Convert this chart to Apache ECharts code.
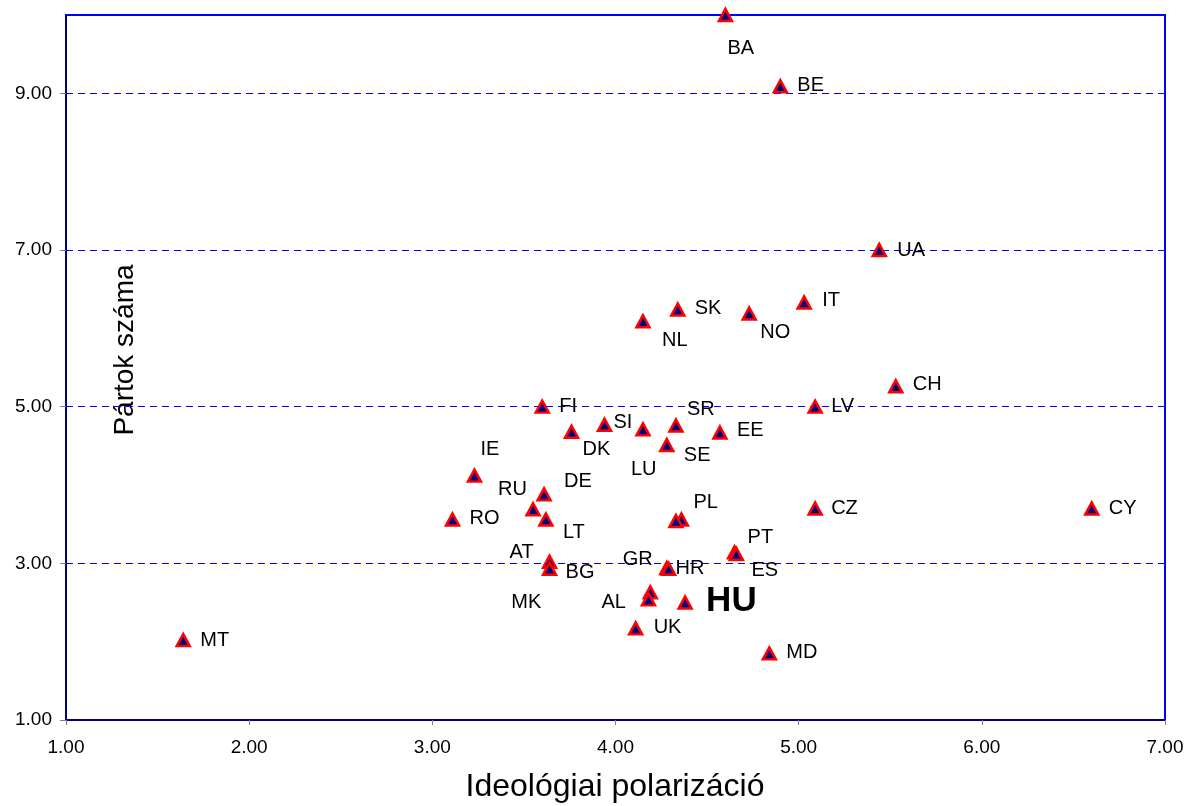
<!DOCTYPE html>
<html>
<head>
<meta charset="utf-8">
<script src="https://cdn.jsdelivr.net/npm/echarts@6/dist/echarts.min.js"></script>
<style>
html,body{margin:0;padding:0;background:#fff;}
#chart{width:1198px;height:806px;}
</style>
</head>
<body>
<div id="chart"></div>
<script>
// ---- data ----
const countries = ['BA','BE','UA','IT','SK','NO','NL','CH','FI','LV','SI','SR','EE','DK','SE','LU','IE','DE','RU','RO','LT','PL','','CZ','CY','PT','ES','AT','BG','GR','HR','MK','AL','HU','UK','MD','MT'];
const xValues   = [4.60,4.90,5.44,5.03,4.34,4.73,4.15,5.53,3.60,5.09,3.94,4.33,4.57,3.76,4.28,4.15,3.23,3.61,3.55,3.11,3.62,4.36,4.33,5.09,6.60,4.65,4.66,3.64,3.64,4.28,4.29,4.19,4.18,4.38,4.11,4.84,1.64];
const yValues   = [10.00,9.09,7.00,6.33,6.24,6.19,6.09,5.26,5.00,5.00,4.77,4.76,4.67,4.68,4.51,4.71,4.12,3.88,3.69,3.56,3.56,3.56,3.54,3.70,3.70,3.14,3.12,3.02,2.93,2.94,2.93,2.63,2.54,2.50,2.17,1.85,2.02];
const xTicks = [1,2,3,4,5,6,7];
const yTicks = [1,3,5,7,9];
const xTitle = 'Ideológiai polarizáció';
const yTitle = 'Pártok száma';
const highlight = 'HU';

// ---- label placement (px, text left edge / vertical centre relative to marker) ----
const labelOffsets = {
  BA:[2,33], BE:[17,-1], UA:[18,0], IT:[18,-2], SK:[17,-1], NO:[11,19], NL:[19,19],
  CH:[17,-2], FI:[17,0], LV:[16,0], SI:[9,-2], SR:[11,-16], EE:[17,-2], DK:[11,18],
  SE:[17,10], LU:[-12,40], IE:[6,-26], DE:[20,-13], RU:[-35,-20], RO:[17,-1], LT:[17,13],
  PL:[12,-17], CZ:[16,0], CY:[17,0], PT:[13,-15], ES:[15,17], AT:[-40,-9], BG:[16,4],
  GR:[-44,-9], HR:[7,0], MK:[-139,10], AL:[-47,3], HU:[21,-1], UK:[18,-1], MD:[17,-1], MT:[17,0]
};

const FONT = 'Arial, "Liberation Sans", sans-serif';

const seriesData = countries.map((c, i) => {
  const off = labelOffsets[c] || [0,0];
  const item = { name: c, value: [xValues[i], yValues[i]] };
  if (!c) {
    item.label = { show: false };
  } else {
    item.label = { offset: off };
    if (c === highlight) {
      item.label.fontSize = 35;
      item.label.fontWeight = 'bold';
    }
  }
  return item;
});

const chart = echarts.init(document.getElementById('chart'), null, {renderer:'canvas'});
chart.setOption({
  animation: false,
  backgroundColor: '#ffffff',
  grid: { left: 66, right: 33, top: 15, bottom: 86, show: true, borderColor: '#0000FF', borderWidth: 2, backgroundColor: 'transparent' },
  xAxis: {
    type: 'value', min: xTicks[0], max: xTicks[xTicks.length-1], interval: 1,
    axisLine: { show: true, onZero: false, lineStyle: { color: '#000080', width: 2 } },
    axisTick: { show: true, length: 5, lineStyle: { color: '#808080', width: 1 } },
    axisLabel: { color: '#000', fontSize: 19, fontFamily: FONT, margin: 18, formatter: v => v.toFixed(2) },
    splitLine: { show: false }
  },
  yAxis: {
    type: 'value', min: yTicks[0], max: 10, interval: 2,
    axisLine: { show: true, onZero: false, lineStyle: { color: '#000080', width: 2 } },
    axisTick: { show: true, length: 6, customValues: yTicks, lineStyle: { color: '#808080', width: 1 } },
    axisLabel: { color: '#000', fontSize: 19, fontFamily: FONT, margin: 14,
      formatter: v => (yTicks.indexOf(v) >= 0 ? v.toFixed(2) : '') },
    splitLine: { show: true, lineStyle: { color: '#0000FF', width: 1, type: [7,5] } }
  },
  graphic: [
    { type: 'text', x: 615, y: 787, style: { text: xTitle, font: '32px ' + FONT, fill: '#000', textAlign: 'center', textVerticalAlign: 'middle' } },
    { type: 'text', x: 125, y: 350, rotation: Math.PI/2, style: { text: yTitle, font: '28px ' + FONT, fill: '#000', textAlign: 'center', textVerticalAlign: 'middle' } }
  ],
  series: [{
    type: 'scatter',
    symbol: 'triangle',
    symbolSize: [13, 12],
    itemStyle: { color: '#000080', borderColor: '#FF0000', borderWidth: 2.5, opacity: 1 },
    label: {
      show: true, position: 'inside', align: 'left', verticalAlign: 'middle',
      formatter: p => p.name, color: '#000', fontSize: 20, fontFamily: FONT
    },
    emphasis: { disabled: true },
    data: seriesData,
    z: 5
  }]
});
</script>
</body>
</html>
